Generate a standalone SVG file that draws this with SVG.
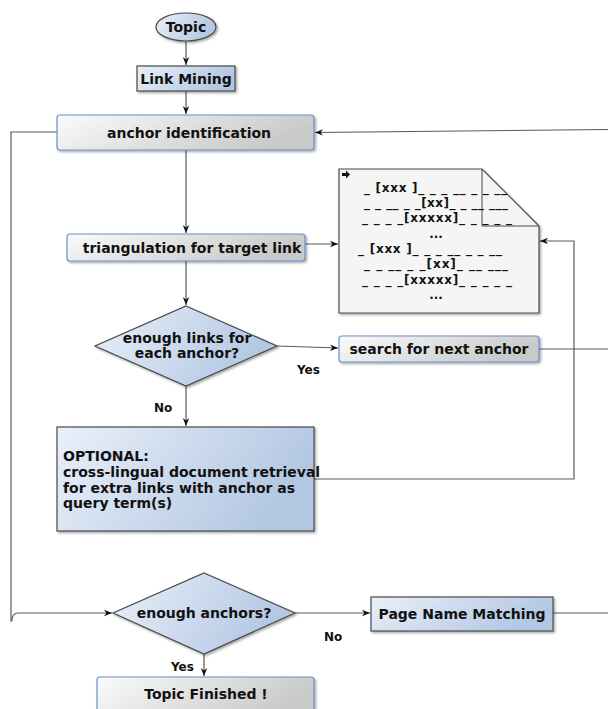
<svg xmlns="http://www.w3.org/2000/svg" width="608" height="709" viewBox="0 0 608 709">
<defs>
<linearGradient id="gBlue" x1="0" y1="0" x2="1" y2="0.3">
<stop offset="0" stop-color="#eaf0f9"/>
<stop offset="1" stop-color="#b3c7e3"/>
</linearGradient>
<linearGradient id="gGray" x1="0" y1="0" x2="1" y2="0.3">
<stop offset="0" stop-color="#fbfbfb"/>
<stop offset="1" stop-color="#c9c9c9"/>
</linearGradient>
<filter id="sh" x="-10%" y="-10%" width="130%" height="140%">
<feDropShadow dx="1.5" dy="1.5" stdDeviation="1" flood-color="#000" flood-opacity="0.35"/>
</filter>
<marker id="ah" viewBox="0 0 10 10" refX="10" refY="5" markerWidth="8" markerHeight="8" markerUnits="userSpaceOnUse" orient="auto">
<path d="M0,1 L10,5 L0,9 L3,5 Z" fill="#111"/>
</marker>
</defs>
<style>
.t{font-family:"DejaVu Sans","Liberation Sans",sans-serif;font-weight:bold;font-size:14px;fill:#111;}
.c{text-anchor:middle;}
.s{font-size:12px;}
.d{font-size:12px;}
.blue{fill:url(#gBlue);stroke:#4a4a4a;stroke-width:1.2;filter:url(#sh);}
.gray{fill:url(#gGray);stroke:#6b8fd0;stroke-width:1.2;filter:url(#sh);}
.ln{fill:none;stroke:#5a5a5a;stroke-width:1.2;}
.la{fill:none;stroke:#5a5a5a;stroke-width:1.2;marker-end:url(#ah);}
</style>

<g id="connectors">
<path class="la" d="M186,41 V65"/>
<path class="la" d="M186,91 V114"/>
<path class="la" d="M186,150 V233"/>
<path class="la" d="M608,129.5 L315,132.5"/>
<path class="ln" d="M57,132 H11 V622"/>
<path class="la" d="M12,621 Q12,613 18,613 H112"/>
<path class="la" d="M305,244 H338"/>
<path class="la" d="M186,261 V305"/>
<path class="la" d="M277,346 L338,348"/>
<path class="ln" d="M539,349 H608"/>
<path class="la" d="M186,386 V426"/>
<path class="la" d="M314,479 H574 V241 H540"/>
<path class="la" d="M295,613 H370"/>
<path class="ln" d="M553,613 H608"/>
<path class="la" d="M204,654 V676"/>
</g>

<g id="n-topic">
<ellipse cx="186" cy="27" rx="30" ry="14" class="blue"/>
<text x="186" y="32" class="t c">Topic</text>
</g>

<g id="n-linkmining">
<rect x="137" y="66" width="98" height="25" class="blue"/>
<text x="186" y="84" class="t c">Link Mining</text>
</g>

<g id="n-anchor">
<rect x="57" y="115" width="257" height="35" rx="3" class="gray"/>
<text x="189" y="138" class="t c">anchor identification</text>
</g>

<g id="n-triang">
<rect x="67" y="234" width="238" height="27" rx="3" class="gray"/>
<text x="192" y="253" class="t c">triangulation for target link</text>
</g>

<g id="n-doc">
<path d="M339,169 H482 L539,226 V313 H339 Z" fill="#f5f5f5" stroke="#4a4a4a" stroke-width="1.2" filter="url(#sh)"/>
<path d="M482,169 V226 H539" fill="none" stroke="#4a4a4a" stroke-width="1"/>
<path d="M342,173 h4 v-2.5 l4,4 l-4,4 v-2.5 h-4 z" fill="#111"/>
<text x="364" y="192" class="t d" textLength="143" lengthAdjust="spacing">_ [xxx ]_ _ _ __ _ _ __</text>
<text x="364" y="207" class="t d" textLength="144" lengthAdjust="spacing">_ _ __ _ _[xx]_ _ __ ___</text>
<text x="362" y="222" class="t d" textLength="150" lengthAdjust="spacing">_ _ _ _[xxxxx]_ _ _ _ _</text>
<text x="436" y="238" class="t c d">...</text>
<text x="358" y="253" class="t d" textLength="144" lengthAdjust="spacing">_ [xxx ]_ _ _ __ _ _ __</text>
<text x="364" y="268" class="t d" textLength="144" lengthAdjust="spacing">_ _ __ _ _[xx]_ __ ___</text>
<text x="362" y="284" class="t d" textLength="150" lengthAdjust="spacing">_ _ _ _[xxxxx]_ _ _ _ _</text>
<text x="436" y="299" class="t c d">...</text>
</g>

<g id="n-enoughlinks">
<path d="M186,306 L277,346 L186,386 L95,346 Z" class="blue"/>
<text x="187" y="343" class="t c">enough links for</text>
<text x="187" y="358" class="t c">each anchor?</text>
</g>

<g id="n-search">
<rect x="339" y="336" width="200" height="26" rx="3" class="gray"/>
<text x="439" y="354" class="t c">search for next anchor</text>
</g>

<g id="n-optional">
<rect x="57" y="427" width="257" height="104" class="blue"/>
<text x="63" y="461" class="t">OPTIONAL:</text>
<text x="63" y="477" class="t">cross-lingual document retrieval</text>
<text x="63" y="492.5" class="t">for extra links with anchor as</text>
<text x="63" y="508" class="t">query term(s)</text>
</g>

<g id="n-enoughanchors">
<path d="M204,573 L295,613 L204,654 L113,613 Z" class="blue"/>
<text x="204" y="618" class="t c">enough anchors?</text>
</g>

<g id="n-pnm">
<rect x="371" y="597" width="182" height="34" class="blue"/>
<text x="462" y="619" class="t c">Page Name Matching</text>
</g>

<g id="n-finished">
<rect x="97" y="677" width="217" height="40" rx="3" class="gray"/>
<text x="206" y="699" class="t c">Topic Finished !</text>
</g>

<g id="labels">
<text x="297" y="374" class="t s">Yes</text>
<text x="154" y="412" class="t s">No</text>
<text x="324" y="641" class="t s">No</text>
<text x="171" y="671" class="t s">Yes</text>
</g>
</svg>
